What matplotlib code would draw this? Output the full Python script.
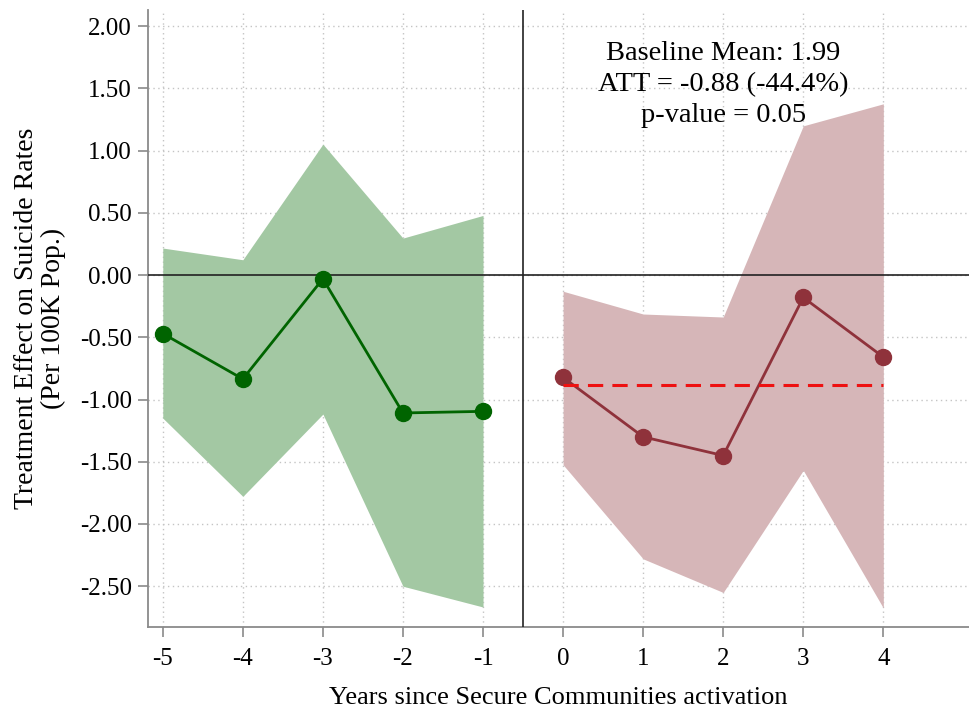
import matplotlib
matplotlib.use("Agg")
import matplotlib.pyplot as plt

plt.rcParams['font.family'] = ['Liberation Serif', 'DejaVu Serif']
plt.rcParams['axes.unicode_minus'] = False

# Event-study estimates, pre-period (leads)
pre_years = [-5, -4, -3, -2, -1]
pre_coef = [-0.47, -0.835, -0.03, -1.108, -1.095]
pre_lo = [-1.149, -1.778, -1.117, -2.50, -2.667]
pre_hi = [0.217, 0.123, 1.052, 0.297, 0.479]

# Post-period (lags)
post_years = [0, 1, 2, 3, 4]
post_coef = [-0.822, -1.30, -1.45, -0.18, -0.659]
post_lo = [-1.524, -2.28, -2.55, -1.569, -2.675]
post_hi = [-0.13, -0.313, -0.337, 1.199, 1.376]

att = -0.88
att_pct = -44.4
baseline_mean = 1.99
p_value = 0.05

green_fill = '#a3c8a3'
green_line = '#006400'
red_fill = '#d6b6b8'
red_line = '#8f323b'

fig = plt.figure(figsize=(9.69, 7.11), dpi=100)
ax = fig.add_axes([0.1527, 0.1186, 0.8473, 0.8674])

ax.fill_between(pre_years, pre_lo, pre_hi, color=green_fill, lw=0, zorder=1)
ax.plot(pre_years, pre_coef, color=green_line, lw=2, marker='o', ms=11.5, zorder=4)

ax.fill_between(post_years, post_lo, post_hi, color=red_fill, lw=0, zorder=1)
ax.plot(post_years, post_coef, color=red_line, lw=2, marker='o', ms=11.5, zorder=4)

# average post-treatment effect
ax.plot([post_years[0], post_years[-1]], [att, att], color='#ee1111', lw=2.2,
        ls=(0, (5, 3)), zorder=5)

ax.axhline(0, color='#222222', lw=1.2, zorder=3)
ax.axvline(-0.5, color='#222222', lw=1.2, zorder=3)

ax.text(2.0, 1.53,
        f"Baseline Mean: {baseline_mean:.2f}\nATT = {att:.2f} ({att_pct:.1f}%)\np-value = {p_value:.2f}",
        ha='center', va='center', fontsize=20.5, linespacing=1.3, zorder=6)

ax.set_xlim(-5.185, 5.07)
ax.set_ylim(-2.825, 2.13)
ax.set_xticks(pre_years + post_years)
ax.set_yticks([2.0, 1.5, 1.0, 0.5, 0.0, -0.5, -1.0, -1.5, -2.0, -2.5])
ax.set_yticklabels([f"{v:.2f}" for v in ax.get_yticks()])

ax.grid(True, color='#c4c4c4', ls=(0, (1, 2.5)), lw=1, zorder=0)
ax.set_axisbelow(True)

for side in ['top', 'right']:
    ax.spines[side].set_visible(False)
for side in ['left', 'bottom']:
    ax.spines[side].set_color('#8a8a8a')
    ax.spines[side].set_linewidth(1.3)

ax.tick_params(axis='both', colors='#8a8a8a', length=7.5, width=1.2,
               labelcolor='black', labelsize=18)
ax.tick_params(axis='y', pad=4)
ax.tick_params(axis='x', pad=8)

ax.set_xlabel('Years since Secure Communities activation', fontsize=19, labelpad=12)
ax.set_ylabel('Treatment Effect on Suicide Rates\n(Per 100K Pop.)', fontsize=20,
              linespacing=1.1, labelpad=10)

fig.savefig('out.png', dpi=100)
